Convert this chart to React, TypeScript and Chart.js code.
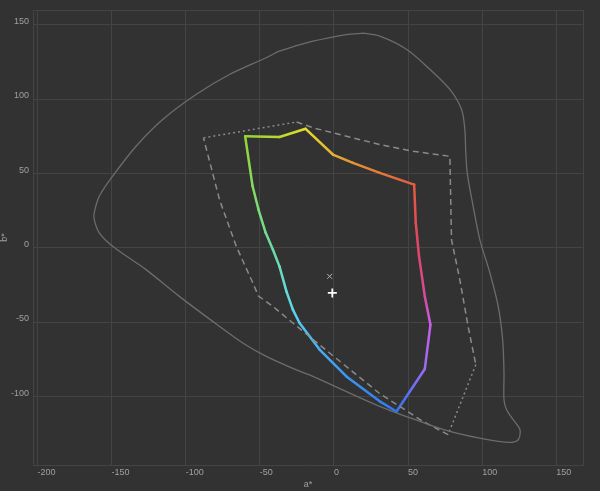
import React, { useEffect, useRef } from "react";
import { Chart, registerables } from "chart.js";

Chart.register(...registerables);

// Axis ranges
const A_MIN = -203;
const A_MAX = 168;
const B_MIN = -146;
const B_MAX = 160;
const TICK_STEP = 50;

// Outer visible-colour boundary (a*, b*)
const locusA = [19.6, 8.4, -14.2, -36.7, -45.7, -70.5, -93.0, -115.5, -133.5, -149.3, -158.3, -161.7, -161.7, -158.3, -149.3, -126.8, -104.3, -81.8, -61.5, -45.7, -23.2, -14.2, 30.9, 60.1, 78.2, 98.4, 118.7, 124.3, 125.5, 120.9, 116.5, 114.7, 114.7, 113.8, 110.8, 105.2, 98.4, 93.9, 89.9, 88.9, 88.3, 86.1, 78.2, 64.7, 48.9, 30.9, 19.6];
const locusB = [144.4, 143.5, 139.0, 132.3, 127.9, 116.6, 103.2, 86.4, 68.4, 48.2, 34.7, 23.6, 19.0, 10.1, 1.1, -14.6, -32.6, -49.4, -63.9, -72.9, -82.9, -86.4, -106.6, -117.4, -123.4, -127.9, -130.8, -129.0, -122.3, -115.5, -108.8, -102.1, -83.9, -61.7, -39.3, -16.8, 5.6, 28.0, 50.5, 65.0, 79.6, 93.1, 106.6, 120.1, 133.6, 142.4, 144.4];

// Wide gamut boundary (dashed)
const wideA = [-88.0, -25.2, -14.2, 8.4, 30.9, 53.4, 78.2, 79.3, 84.9, 90.5, 95.7, 77.0, 60.1, 30.9, -2.9, -27.7, -41.2, -50.9, -54.7, -65.9, -77.2, -88.0];
const wideB = [74.0, 84.7, 80.8, 75.1, 69.5, 65.0, 61.6, 5.6, -21.3, -52.8, -78.5, -125.6, -116.7, -98.0, -70.7, -50.5, -39.3, -32.4, -23.6, 1.1, 32.5, 74.0];
const wideDottedSegments = [0, 10];

// Device gamut boundary (coloured)
const devA = [-59.9, -36.7, -19.1, -0.7, 12.8, 30.9, 54.1, 55.2, 57.4, 61.3, 65.1, 61.3, 42.2, 30.9, 8.4, -9.7, -23.2, -27.7, -32.0, -36.7, -41.2, -46.1, -50.9, -54.9, -59.9];
const devB = [75.1, 74.6, 80.1, 62.8, 57.2, 50.5, 42.6, 16.8, -5.7, -32.6, -51.6, -81.4, -110.0, -103.2, -86.4, -68.4, -50.5, -41.5, -29.4, -12.6, -1.1, 10.3, 25.8, 41.6, 75.1];
const devColors = ["#96d436", "#bcd830", "#e6dc2c", "#e6b032", "#e69436", "#e57a3a", "#e45c40", "#e24c56", "#e0466e", "#d84c9c", "#c85ee8", "#9a6cf0", "#2f74f2", "#3482f0", "#3c96f0", "#46aef0", "#52c8f0", "#5cd8ec", "#62dcd8", "#68dcbc", "#6cdca6", "#72dc90", "#7adc78", "#84da5c", "#96d436"];

// White points
const whiteA = [-2.9];
const whiteB = [-19.1];
const targetA = [-1.1];
const targetB = [-30.3];

const toPts = (a: number[], b: number[]) => a.map((v, i) => ({ x: v, y: b[i] }));

const BG = "#323232";
const GRID = "#444444";
const TEXT = "#a0a0a0";
const FONT = "'Liberation Sans', Arial, sans-serif";

export default function App() {
  const ref = useRef<HTMLCanvasElement>(null);

  useEffect(() => {
    if (!ref.current) return;
    const bgPlugin = {
      id: "bg",
      beforeDraw(chart: any) {
        const c = chart.ctx;
        c.save();
        c.fillStyle = BG;
        c.fillRect(0, 0, chart.width, chart.height);
        c.restore();
      },
      beforeDatasetsDraw(chart: any) {
        const { ctx: c, chartArea: ca } = chart;
        c.save();
        c.strokeStyle = GRID;
        c.lineWidth = 1;
        c.beginPath();
        c.moveTo(ca.left, ca.top + 0.5);
        c.lineTo(ca.right + 0.5, ca.top + 0.5);
        c.lineTo(ca.right + 0.5, ca.bottom);
        c.stroke();
        c.restore();
      },
    };

    const chart = new Chart(ref.current, {
      type: "scatter",
      data: {
        datasets: [
          {
            data: toPts(locusA, locusB),
            showLine: true,
            borderColor: "#6c6c6c",
            borderWidth: 1.3,
            pointRadius: 0,
            tension: 0.3,
          },
          {
            data: toPts(wideA, wideB),
            showLine: true,
            borderColor: "#8a8a8a",
            borderWidth: 1.5,
            pointRadius: 0,
            tension: 0,
            borderDash: [6, 4],
            segment: {
              borderDash: (ctx: any) =>
                wideDottedSegments.includes(ctx.p0DataIndex) ? [2, 3] : [6, 4],
            },
          },
          {
            data: toPts(devA, devB),
            showLine: true,
            borderColor: "#ffffff",
            borderWidth: 2.5,
            borderCapStyle: "round",
            borderJoinStyle: "round",
            pointRadius: 0,
            tension: 0,
            segment: {
              borderColor: (ctx: any) => {
                const c = ctx.chart.ctx as CanvasRenderingContext2D;
                const g = c.createLinearGradient(ctx.p0.x, ctx.p0.y, ctx.p1.x, ctx.p1.y);
                g.addColorStop(0, devColors[ctx.p0DataIndex]);
                g.addColorStop(1, devColors[ctx.p1DataIndex]);
                return g;
              },
              borderDashOffset: (ctx: any) => ctx.p0DataIndex * 0.001,
            },
          },
          {
            data: toPts(whiteA, whiteB),
            pointStyle: "crossRot",
            pointRadius: 3.5,
            borderColor: "#b0b0b0",
            borderWidth: 1,
          },
          {
            data: toPts(targetA, targetB),
            pointStyle: "cross",
            pointRadius: 4.5,
            borderColor: "#ffffff",
            borderWidth: 1.8,
          },
        ],
      },
      options: {
        animation: false,
        responsive: false,
        devicePixelRatio: 1,
        layout: { padding: { top: 10, right: 17, left: 0, bottom: 0 } },
        plugins: { legend: { display: false }, tooltip: { enabled: false } },
        scales: {
          x: {
            type: "linear",
            min: A_MIN,
            max: A_MAX,
            afterFit: (s: any) => {
              s.height = 26;
            },
            grid: { color: GRID, drawTicks: false, lineWidth: 1 },
            border: { color: GRID },
            ticks: {
              stepSize: TICK_STEP,
              includeBounds: false,
              align: "start",
              padding: 2,
              color: TEXT,
              font: { family: FONT, size: 9 },
            },
            title: {
              display: true,
              text: "a*",
              color: TEXT,
              font: { family: FONT, size: 9 },
              padding: { top: 0, bottom: 1 },
            },
          },
          y: {
            type: "linear",
            min: B_MIN,
            max: B_MAX,
            afterFit: (s: any) => {
              s.width = 33;
            },
            grid: { color: GRID, drawTicks: false, lineWidth: 1 },
            border: { color: GRID },
            ticks: {
              stepSize: TICK_STEP,
              includeBounds: false,
              padding: 4,
              labelOffset: -3.5,
              color: TEXT,
              font: { family: FONT, size: 9 },
            },
            title: {
              display: true,
              text: "b*",
              color: TEXT,
              font: { family: FONT, size: 9, lineHeight: 0.9 },
              padding: { top: 0, bottom: 0 },
            },
          },
        },
      },
      plugins: [bgPlugin],
    } as any);
    return () => chart.destroy();
  }, []);

  return (
    <div style={{ position: "absolute", left: 0, top: 0, width: 600, height: 491, background: BG }}>
      <canvas ref={ref} width={600} height={491} style={{ display: "block" }} />
    </div>
  );
}
